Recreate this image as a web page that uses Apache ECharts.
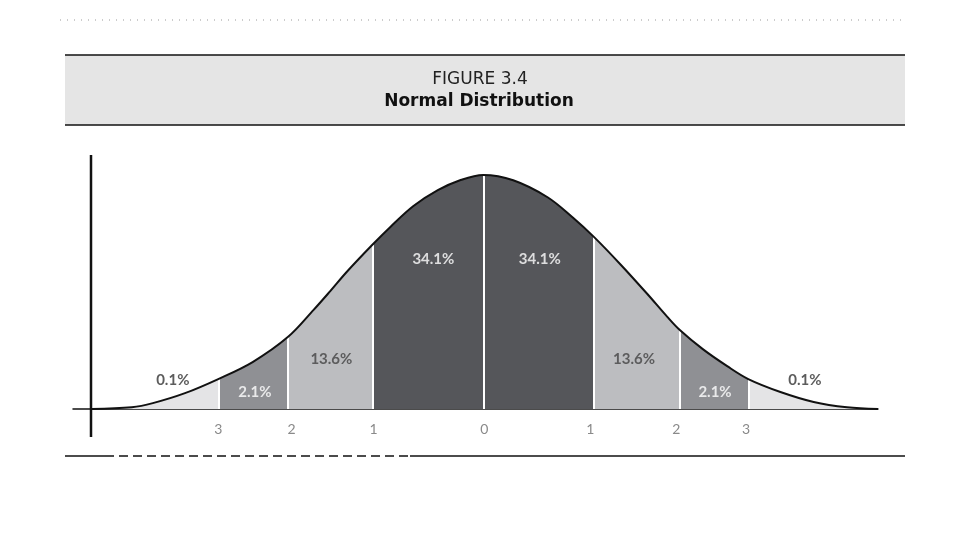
<!DOCTYPE html>
<html>
<head>
<meta charset="utf-8">
<script src="https://cdn.jsdelivr.net/npm/echarts@6/dist/echarts.min.js"></script>
<style>
  html, body { margin: 0; padding: 0; background: #fff; }
  #chart { width: 960px; height: 540px; }
</style>
</head>
<body>
<div id="chart"></div>
<script>
// curve (x in standard deviations, y as density)
var curveX = [-3.53, -3.17, -2.98, -2.69, -2.39, -2.08, -1.76, -1.53, -1.38, -1.23, -1.0, -0.84, -0.63, -0.41, -0.21, 0,
              0.27, 0.58, 0.81, 1.0, 1.24, 1.48, 1.66, 1.77, 1.98, 2.2, 2.39, 2.68, 2.98, 3.28, 3.56];
var curveY = [0, 0.003, 0.010, 0.027, 0.051, 0.080, 0.123, 0.169, 0.201, 0.234, 0.280, 0.310, 0.346, 0.373, 0.390, 0.399,
              0.390, 0.361, 0.326, 0.293, 0.246, 0.196, 0.157, 0.135, 0.102, 0.073, 0.051, 0.029, 0.012, 0.003, 0];

// band edges and the colours between them
var bandEdges = [-2.39, -1.76, -1.0, 0, 1.0, 1.77, 2.39];
var edgeHeights = [0.051, 0.123, 0.280, 0.399, 0.293, 0.135, 0.051];
var bandColors = ['#e4e4e6', '#8f9094', '#bcbdc0', '#55565a', '#55565a', '#bcbdc0', '#8f9094', '#e4e4e6'];

// axis labels
var tickPos = [-2.39, -1.73, -0.99, 0.01, 0.965, 1.74, 2.37];
var tickText = ['3', '2', '1', '0', '1', '2', '3'];

// percentages
var pctText = ['0.1%', '2.1%', '13.6%', '34.1%', '34.1%', '13.6%', '2.1%', '0.1%'];
var pctX = [-2.80, -2.06, -1.37, -0.45, 0.51, 1.36, 2.09, 2.90];
var pctY = [0.049, 0.029, 0.085, 0.256, 0.256, 0.085, 0.029, 0.049];
var pctColor = ['#333333', '#ffffff', '#444444', '#ffffff', '#ffffff', '#444444', '#ffffff', '#333333'];

var curve = curveX.map(function (x, i) { return [x, curveY[i]]; });

var pieces = [];
for (var i = 0; i <= bandEdges.length; i++) {
    var p = { color: bandColors[i] };
    if (i > 0) p.gte = bandEdges[i - 1];
    if (i < bandEdges.length) p.lt = bandEdges[i];
    pieces.push(p);
}

var separators = bandEdges.map(function (x, i) {
    return [{ coord: [x, 0] }, { coord: [x, edgeHeights[i]] }];
});

var labels = pctX.map(function (x, i) {
    return {
        value: [x, pctY[i]],
        name: pctText[i],
        label: { color: pctColor[i] }
    };
});

var myChart = echarts.init(document.getElementById('chart'));
var option = {
    backgroundColor: '#ffffff',
    animation: false,
    grid: { left: 73, right: 82, top: 155, bottom: 131 },
    xAxis: {
        type: 'value',
        min: -3.7,
        max: 3.56,
        axisLine: { show: true, lineStyle: { color: '#111', width: 1.5 } },
        axisTick: { show: false },
        splitLine: { show: false },
        axisLabel: {
            customValues: tickPos,
            margin: 13,
            color: '#8a8a8a',
            fontSize: 14,
            fontFamily: 'Lato',
            formatter: function (v) {
                var best = 0;
                for (var k = 1; k < tickPos.length; k++) {
                    if (Math.abs(tickPos[k] - v) < Math.abs(tickPos[best] - v)) best = k;
                }
                return tickText[best];
            }
        }
    },
    yAxis: { type: 'value', min: 0, max: 0.433, show: false },
    visualMap: {
        type: 'piecewise',
        show: false,
        dimension: 0,
        seriesIndex: 0,
        pieces: pieces
    },
    series: [
        {
            type: 'line',
            data: curve,
            smooth: 0.35,
            symbol: 'none',
            lineStyle: { width: 0 },
            areaStyle: { opacity: 1 },
            markLine: {
                silent: true,
                symbol: 'none',
                label: { show: false },
                lineStyle: { color: '#ffffff', width: 2, type: 'solid' },
                data: separators
            }
        },
        {
            type: 'line',
            data: curve,
            smooth: 0.35,
            symbol: 'none',
            z: 5,
            lineStyle: { color: '#111', width: 2 }
        },
        {
            type: 'scatter',
            data: labels,
            symbolSize: 0,
            z: 6,
            label: {
                show: true,
                position: 'inside',
                formatter: '{b}',
                fontSize: 15,
                fontWeight: 'bold',
                fontFamily: 'Lato'
            }
        }
    ],
    graphic: [
        {
            type: 'line', silent: true,
            shape: { x1: 60, y1: 20, x2: 905, y2: 20 },
            style: { stroke: '#999', lineWidth: 1, lineDash: [1, 6] }
        },
        {
            type: 'rect', silent: true,
            shape: { x: 65, y: 55, width: 840, height: 70 },
            style: { fill: '#e5e5e5' }
        },
        {
            type: 'line', silent: true,
            shape: { x1: 65, y1: 55, x2: 905, y2: 55 },
            style: { stroke: '#111', lineWidth: 1.5 }
        },
        {
            type: 'line', silent: true,
            shape: { x1: 65, y1: 125, x2: 905, y2: 125 },
            style: { stroke: '#111', lineWidth: 1.5 }
        },
        {
            type: 'text', silent: true,
            x: 480, y: 80,
            style: {
                text: 'FIGURE 3.4', fill: '#222', font: '17px "DejaVu Sans"',
                align: 'center', verticalAlign: 'middle'
            }
        },
        {
            type: 'text', silent: true,
            x: 479, y: 102,
            style: {
                text: 'Normal Distribution', fill: '#111', font: 'bold 17px "DejaVu Sans"',
                align: 'center', verticalAlign: 'middle'
            }
        },
        {
            type: 'line', silent: true,
            shape: { x1: 91, y1: 155, x2: 91, y2: 437 },
            style: { stroke: '#111', lineWidth: 2.5 }
        },
        {
            type: 'line', silent: true,
            shape: { x1: 65, y1: 456, x2: 105, y2: 456 },
            style: { stroke: '#111', lineWidth: 1.5 }
        },
        {
            type: 'line', silent: true,
            shape: { x1: 105, y1: 456, x2: 410, y2: 456 },
            style: { stroke: '#111', lineWidth: 1.5, lineDash: [9, 5] }
        },
        {
            type: 'line', silent: true,
            shape: { x1: 410, y1: 456, x2: 905, y2: 456 },
            style: { stroke: '#111', lineWidth: 1.5 }
        }
    ]
};
myChart.setOption(option);
</script>
</body>
</html>
